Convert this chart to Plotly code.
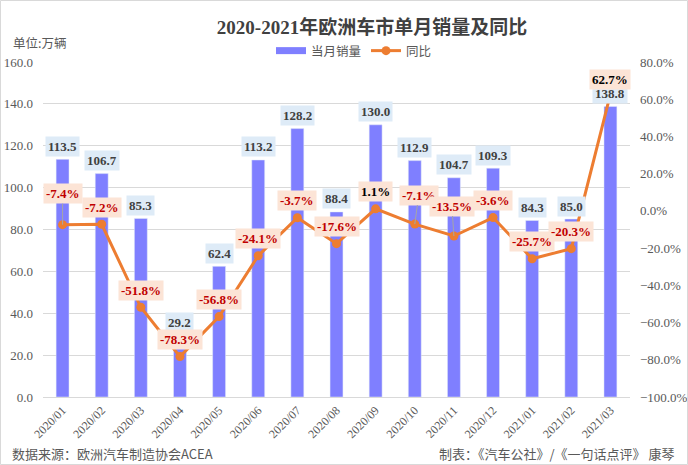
import plotly.graph_objects as go

months = ["2020/01", "2020/02", "2020/03", "2020/04", "2020/05", "2020/06", "2020/07",
          "2020/08", "2020/09", "2020/10", "2020/11", "2020/12", "2021/01", "2021/02", "2021/03"]
sales = [113.5, 106.7, 85.3, 29.2, 62.4, 113.2, 128.2, 88.4, 130.0, 112.9, 104.7, 109.3, 84.3, 85.0, 138.8]
yoy = [-7.4, -7.2, -51.8, -78.3, -56.8, -24.1, -3.7, -17.6, 1.1, -7.1, -13.5, -3.6, -25.7, -20.3, 62.7]

W, H = 688, 465
L, R, T, B = 43, 58, 62, 68
PW, PH = W - L - R, H - T - B

def px(x):
    return (x - L) / PW

def py(y):
    return (H - B - y) / PH

FONT = "Liberation Serif, Times New Roman, Noto Sans CJK SC, serif"
CJK = "Noto Sans CJK SC, Liberation Serif, serif"
GRAY = "#595959"
BAR = "#7f7fff"
LINE = "#ed7d31"

fig = go.Figure()
fig.add_trace(go.Bar(x=months, y=sales, name="当月销量", marker_color=BAR,
                     yaxis="y", showlegend=False))
# legend swatch for the bars (wide rectangle as in the reference)
fig.add_trace(go.Scatter(x=[months[0]], y=[None], name="当月销量", mode="lines",
                         line=dict(color=BAR, width=7), yaxis="y", showlegend=True,
                         hoverinfo="skip"))
fig.add_trace(go.Scatter(x=months, y=yoy, name="同比", mode="lines+markers",
                         line=dict(color=LINE, width=3),
                         marker=dict(color=LINE, size=9), yaxis="y2"))

annotations = []
for m, v in zip(months, sales):
    annotations.append(dict(x=m, y=v, xref="x", yref="y", text="<b>%.1f</b>" % v,
                            showarrow=False, yshift=13, bgcolor="#deebf7",
                            borderpad=2, font=dict(family=FONT, size=13, color="#404040")))

leader = {"2020/01": (0, -31), "2020/10": (4, -29), "2020/11": (-2, -30)}
for m, v in zip(months, yoy):
    col = "#000000" if v > 0 else "#c00000"
    txt = "<b>%.1f%%</b>" % v
    base = dict(x=m, y=v, xref="x", yref="y2", text=txt, bgcolor="#fce4d6",
                borderpad=2, font=dict(family=FONT, size=13, color=col))
    if m in leader:
        ax, ay = leader[m]
        base.update(showarrow=True, ax=ax, ay=ay, arrowhead=0, arrowwidth=1,
                    arrowcolor="#a6a6a6", standoff=0)
    else:
        base.update(showarrow=False, yshift=17)
    if m == "2021/03":
        base.update(yshift=15)
    annotations.append(base)

annotations += [
    dict(x=px(11), y=py(42), xref="paper", yref="paper", text="单位:万辆", showarrow=False,
         xanchor="left", yanchor="middle", font=dict(family=CJK, size=12.5, color=GRAY)),
    dict(x=px(10), y=py(453), xref="paper", yref="paper", text="数据来源：欧洲汽车制造协会ACEA",
         showarrow=False, xanchor="left", yanchor="middle",
         font=dict(family=CJK, size=13, color=GRAY)),
    dict(x=px(677), y=py(453), xref="paper", yref="paper",
         text="制表：《汽车公社》/《一句话点评》 康琴",
         showarrow=False, xanchor="right", yanchor="middle",
         font=dict(family=CJK, size=13, color=GRAY)),
]

fig.update_layout(
    width=W, height=H,
    margin=dict(l=L, r=R, t=T, b=B, autoexpand=False),
    paper_bgcolor="white", plot_bgcolor="white",
    title=dict(text="<b>2020-2021年欧洲车市单月销量及同比</b>", x=372 / W, xanchor="center",
               y=1 - 27 / H, yanchor="middle",
               font=dict(family="Liberation Serif, Noto Sans CJK SC, serif", size=19, color="#404040")),
    legend=dict(orientation="h", x=px(354), xanchor="center", y=py(51), yanchor="middle",
                font=dict(family=CJK, size=12.5, color=GRAY), bgcolor="rgba(0,0,0,0)",
                itemwidth=30, traceorder="normal"),
    bargap=0.67,
    showlegend=True,
    xaxis=dict(tickangle=-45, tickfont=dict(family=FONT, size=12, color=GRAY),
               showgrid=False, showline=False, ticks="", type="category",
               categoryorder="array", categoryarray=months, automargin=False,
               range=[-0.5, len(months) - 0.5], ticklabelstandoff=3),
    yaxis=dict(range=[0, 160], dtick=20, tickformat=".1f", showgrid=True, gridcolor="#d9d9d9",
               gridwidth=1, zeroline=True, zerolinecolor="#d9d9d9", zerolinewidth=1,
               tickfont=dict(family=FONT, size=13, color=GRAY), ticks="", showline=False,
               ticklabelstandoff=9, automargin=False),
    yaxis2=dict(range=[-100, 80], dtick=20, tickformat=".1f", ticksuffix="%", overlaying="y",
                side="right", showgrid=False, zeroline=False,
                tickfont=dict(family=FONT, size=13, color=GRAY), ticks="", showline=False,
                ticklabelstandoff=9, automargin=False),
    annotations=annotations,
    shapes=[dict(type="rect", xref="paper", yref="paper", x0=px(0.5), x1=px(W - 0.5),
                 y0=py(H - 0.5), y1=py(0.5), line=dict(color="#d9d9d9", width=1))],
)

fig.write_html("out.html", config={"displayModeBar": False},
               post_script="document.body.style.margin='0';document.body.style.overflow='hidden';")
